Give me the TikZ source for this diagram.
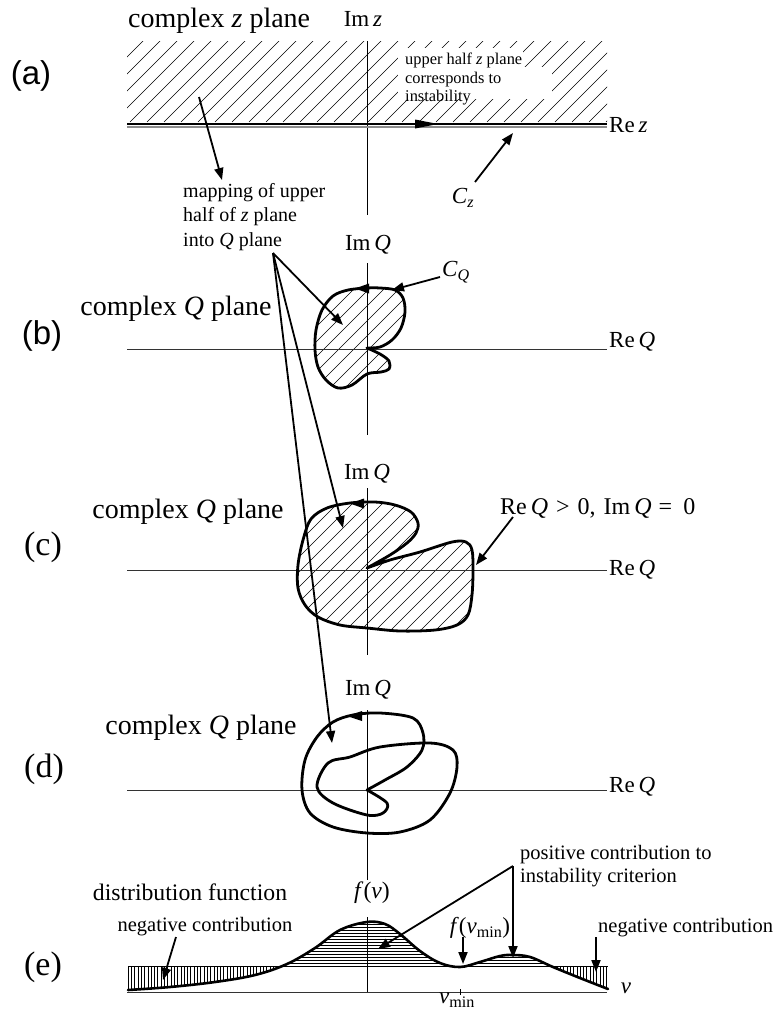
\documentclass[tikz,border=0pt]{standalone}
\usepackage{fontspec}
\setmainfont{Liberation Serif}
\newfontfamily\labsans{Liberation Sans}
\usetikzlibrary{arrows.meta}
\begin{document}
\begin{tikzpicture}[x=1pt,y=-1pt,
  lbl/.style={inner sep=0pt,font=\fontsize{23}{27}\selectfont},
  big/.style={inner sep=0pt,font=\fontsize{28}{33}\selectfont},
  mid/.style={inner sep=0pt,font=\fontsize{23.7}{28}\selectfont},
  panel/.style={inner sep=0pt,font=\fontsize{34}{40}\selectfont},
  panelsans/.style={inner sep=0pt,font=\labsans\fontsize{33}{38}\selectfont},
  note/.style={inner sep=0pt,align=left,font=\fontsize{20}{24.5}\selectfont},
  small/.style={inner sep=0pt,align=left,font=\fontsize{20.5}{23}\selectfont},
  tiny/.style={inner sep=0pt,align=left,font=\fontsize{16.4}{18.5}\selectfont},
  blob/.style={line width=2.8pt,line join=round,line cap=round},
  axis/.style={line width=1pt,black!80},
  vaxis/.style={line width=0.9pt,black},
  arr/.style={line width=1.8pt,-{Triangle[length=12pt,width=9pt]}},
  hatch/.style={line width=0.6pt},
  tip/.style={fill=black}]
\useasboundingbox (0,0) rectangle (775,1009);

% ---------------- (a) ----------------
\begin{scope}
  \clip (127,41) rectangle (607,122);
  \foreach \k in {0,...,33} \draw[hatch] (45+\k*17,122) -- ++(82,-82);
\end{scope}
\fill[white] (398,48) rectangle (523,99);
\fill[white] (523,67) rectangle (552,99);
\draw[vaxis] (367,41) -- (367,215);
\draw[line width=2pt,black!45] (127,127) -- (607,127);
\draw[line width=2.5pt] (127,124) -- (607,124);
\fill[tip] (415,119.5) -- (438,124) -- (415,128.5) -- cycle;
\node[big,anchor=west] (tza) at (128,21) {complex \textit{z} plane};
\node[panelsans] (pa) at (31,76) {(a)};
\node[lbl] (imz) at (363,19) {Im\,\textit{z}};
\node[lbl,anchor=west] (rez) at (609,125) {Re\,\textit{z}};
\node[tiny,anchor=west] (uh) at (405,79) {upper half \textit{z} plane\\corresponds to\\instability};
\node[lbl] (cz) at (463,198) {\textit{C}\textsubscript{\textit{z}}};
\coordinate (a1) at (199,97); \coordinate (a2) at (222,180);
\draw[arr] (a1) -- (a2);
\coordinate (cz1) at (475,182); \coordinate (cz2) at (513,133);
\draw[arr] (cz1) -- (cz2);

\node[note,anchor=west] (map) at (183,217) {mapping of upper\\half of \textit{z} plane\\into \textit{Q} plane};
\coordinate (M) at (273,253);

% ---------------- (b) ----------------
\def\bpathB{plot[smooth,tension=0.55] coordinates {(367,348) (380,347) (392,340) (401,328) (405,312) (403,298) (395,290) (380,288) (367,288) (348,290) (333,296) (322,310) (316,330) (315,350) (318,367) (326,380) (338,388) (352,385) (367,374) (381,372) (389,369) (389,361) (380,354) (367,348)}}
\begin{scope}
  \clip \bpathB;
  \foreach \k in {0,...,14} \draw[hatch] (203+\k*15,395) -- ++(110,-110);
\end{scope}
\draw[vaxis] (367,263) -- (367,435);
\draw[axis] (127,349) -- (607,349);
\draw[blob] \bpathB;
\fill[tip] (355,288.5) -- (369,283.5) -- (369,293.5) -- cycle;
\node[lbl] (imqb) at (368,245) {Im\,\textit{Q}};
\node[lbl,anchor=west] (reqb) at (609,342) {Re\,\textit{Q}};
\node[big] (tqb) at (176,309) {complex \textit{Q} plane};
\node[panelsans] (pb) at (42,336) {(b)};
\node[lbl] (cq) at (456,272) {\textit{C}\textsubscript{\textit{Q}}};
\coordinate (cq1) at (440,277); \coordinate (cq2) at (392,290);
\draw[arr] (cq1) -- (cq2);
\coordinate (mb) at (343,325);
\draw[arr] (M) -- (mb);

% ---------------- (c) ----------------
\def\bpathC{plot[smooth,tension=0.55] coordinates {(367,568) (390,555) (407,543) (416,533) (418,523) (411,512) (395,505) (375,502) (350,503) (327,508) (311,519) (303,540) (298,565) (298,588) (305,605) (318,617) (340,625) (367,628) (400,631) (435,630) (457,625) (468,615) (472,595) (473,570) (472,550) (466,542) (452,542) (420,552) (390,560) (367,568)}}
\begin{scope}
  \clip \bpathC;
  \foreach \k in {0,...,22} \draw[hatch] (160+\k*15,636) -- ++(138,-138);
\end{scope}
\draw[vaxis] (367,488) -- (367,655);
\draw[axis] (127,570) -- (607,570);
\draw[blob] \bpathC;
\fill[tip] (350,503.5) -- (364,498.5) -- (364,508.5) -- cycle;
\node[lbl] (imqc) at (367,474) {Im\,\textit{Q}};
\node[lbl,anchor=west] (reqc) at (609,570) {Re\,\textit{Q}};
\node[big] (tqc) at (188,512) {complex \textit{Q} plane};
\node[panel] (pc) at (43,547) {(c)};
\node[lbl,anchor=west,font=\fontsize{24}{28}\selectfont] (crit) at (500,508) {Re\,\textit{Q}\hspace{8pt}>\hspace{8pt}0,\hspace{8pt}Im\,\textit{Q}\hspace{7pt}=\hspace{11pt}0};
\coordinate (cr1) at (513,517); \coordinate (cr2) at (476,565);
\draw[arr] (cr1) -- (cr2);
\coordinate (mc) at (343,528);
\draw[arr] (M) -- (mc);

% ---------------- (d) ----------------
\def\bpathD{plot[smooth,tension=0.55] coordinates {(367,790) (387,803) (383,813) (367,815) (333,803) (317,787) (328,763) (350,757) (380,747) (430,743) (453,750) (457,767) (450,793) (430,820) (400,832) (367,833) (333,827) (310,813) (302,790) (305,760) (317,737) (333,722) (353,715) (380,713) (413,718) (423,733) (422,750) (407,767) (385,780) (367,790)}}
\draw[vaxis] (367,710) -- (367,880);
\draw[axis] (127,790) -- (607,790);
\draw[blob] \bpathD;
\fill[tip] (347,716) -- (362,711) -- (362,721) -- cycle;
\node[lbl] (imqd) at (368,690) {Im\,\textit{Q}};
\node[lbl,anchor=west] (reqd) at (609,787) {Re\,\textit{Q}};
\node[big] (tqd) at (201,728) {complex \textit{Q} plane};
\node[panel] (pd) at (44,769) {(d)};
\coordinate (md) at (332,743);
\draw[arr] (M) -- (md);

% ---------------- (e) ----------------
\def\fcurve{plot[smooth,tension=0.6] coordinates {(128,990) (170,987) (215,982) (255,975) (287,964) (315,948) (340,930) (367,922) (385,924) (400,934) (420,951) (440,963) (460,967) (480,962) (500,956) (513,955) (530,957) (553,967) (580,978) (608,989)}}
\begin{scope}
  \clip (127,966) rectangle (609,1000);
  \clip \fcurve -- (608,900) -- (128,900) -- cycle;
  \foreach \k in {0,...,146} \draw[hatch] (128+\k*3.3,960) -- ++(0,40);
\end{scope}
\begin{scope}
  \clip (127,900) rectangle (609,966);
  \clip \fcurve -- (608,1000) -- (128,1000) -- cycle;
  \foreach \k in {0,...,16} \draw[hatch] (128,918+\k*3) -- ++(480,0);
\end{scope}
\draw[hatch] (128,966) -- (608,966);
\draw[vaxis] (367,917) -- (367,993);
\draw[axis] (127,992) -- (607,992);
\draw[line width=0.8pt] (460,989) -- (460,995);
\draw[line width=2.6pt,line cap=round] \fcurve;
\node[mid] (fv) at (372,893) {\textit{f}(\textit{v})};
\node[mid] (dist) at (190,892) {distribution function};
\node[small] (negl) at (205,927) {negative contribution};
\node[small,anchor=west] (negr) at (598,928) {negative contribution};
\node[small,anchor=west] (pos) at (520,866.5) {positive contribution to\\instability criterion};
\node[lbl] (fvmin) at (480,928) {\textit{f}(\textit{v}\textsubscript{min})};
\node[lbl] (vax) at (626,988) {\textit{v}};
\node[lbl] (vmin) at (457,1000) {\textit{v}\textsubscript{min}};
\node[panel] (pe) at (43,967) {(e)};
\coordinate (nl1) at (176,937); \coordinate (nl2) at (163,980);
\draw[arr] (nl1) -- (nl2);
\coordinate (P) at (513,866);
\coordinate (p1) at (378,949); \coordinate (p2) at (513,958);
\draw[arr] (P) -- (p1);
\draw[arr] (P) -- (p2);
\coordinate (fm1) at (463,937); \coordinate (fm2) at (463,964);
\draw[arr] (fm1) -- (fm2);
\coordinate (nr1) at (596,937); \coordinate (nr2) at (596,972);
\draw[arr] (nr1) -- (nr2);
\end{tikzpicture}
\end{document}
